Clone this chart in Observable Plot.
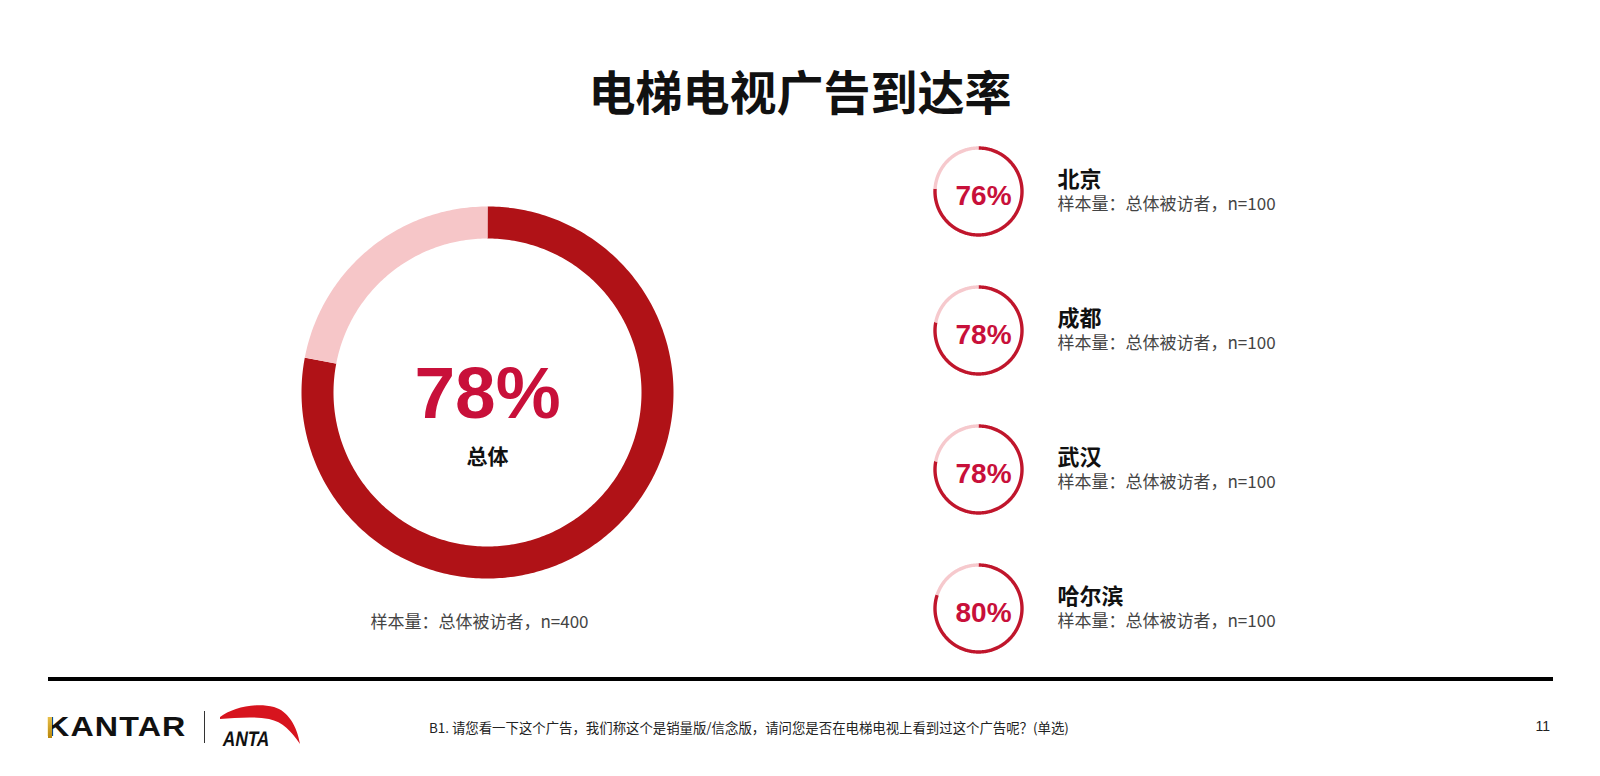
<!DOCTYPE html>
<html>
<head>
<meta charset="utf-8">
<script src="https://cdn.jsdelivr.net/npm/d3@7"></script>
<script src="https://cdn.jsdelivr.net/npm/@observablehq/plot@0.6"></script>
<style>
  html, body { margin: 0; padding: 0; background: #fff; }
  #page { position: relative; width: 1600px; height: 776px; overflow: hidden; background: #fff;
          font-family: "Noto Sans CJK SC", "Liberation Sans", sans-serif; }
  #title { position: absolute; left: 0; width: 1600px; top: 58px; text-align: center;
           font-size: 47px; font-weight: 700; color: #111; line-height: 64px; }
  #chart { position: absolute; left: 0; top: 130px; }
  #rule { position: absolute; left: 48px; width: 1505px; top: 677px; height: 4px; background: #000; }
  #kantar { position: absolute; left: 46px; top: 710px; font-family: "Liberation Sans", Arial, sans-serif;
            font-weight: 700; font-size: 28px; line-height: 34px; letter-spacing: 1px; color: #111;
            transform: scaleX(1.15); transform-origin: left center; }
  #kbar { position: absolute; left: 48px; top: 717px; width: 4px; height: 21px;
          background: linear-gradient(#E8C04A, #B8860B); }
  #sep { position: absolute; left: 204px; top: 711px; width: 1px; height: 32px; background: #333; }
  #anta { position: absolute; left: 210px; top: 700px; }
  #note { position: absolute; left: 429px; top: 717px; font-size: 13.4px; line-height: 20px; color: #222; }
  #pgno { position: absolute; right: 50px; top: 716px; font-size: 14px; line-height: 20px; color: #222;
          font-family: "Liberation Sans", Arial, sans-serif; }
</style>
</head>
<body>
<div id="page">
  <div id="title"></div>
  <div id="chart"></div>
  <div id="rule"></div>
  <div id="kantar">KANTAR</div>
  <div id="kbar"></div>
  <div id="sep"></div>
  <svg id="anta" width="100" height="52" viewBox="0 0 100 52">
    <path d="M10 17 C 22 8, 45 2, 64 7 C 78 11, 87 26, 90 44 C 81 31, 73 22, 59 19 C 43 16, 25 18, 10 19 Z" fill="#D7141E"/>
    <g transform="translate(12 46) scale(0.82 1) skewX(-12)">
      <text x="0" y="0" font-family="Liberation Sans, Arial, sans-serif" font-weight="700"
            font-size="21" fill="#111">ANTA</text>
    </g>
  </svg>
  <div id="note"></div>
  <div id="pgno"></div>
</div>
<script>
// ---------------- data ----------------
const chartTitle = "电梯电视广告到达率";
const totalLabel = "总体";
const totalValue = 78;
const totalN = 400;
const cities = ["北京", "成都", "武汉", "哈尔滨"];
const cityValues = [76, 78, 78, 80];
const cityN = [100, 100, 100, 100];
const samplePrefix = "样本量：总体被访者，n=";
const footnote = "B1. 请您看一下这个广告，我们称这个是销量版/信念版，请问您是否在电梯电视上看到过这个广告呢？(单选)";
const pageNumber = "11";

// ---------------- layout ----------------
const TOP = 130, H = 530, W = 1600;
const big = {cx: 487, cy: 392, r: 170, w: 32, dark: "#B01217", light: "#F6C6C8"};
const small = {cx: 978, cy0: 191, step: 139, r: 43.5, w: 3.4, dark: "#C0162C", light: "#F6C9CD"};
const textRed = "#C8103A";
const cjk = "'Noto Sans CJK SC', 'Liberation Sans', sans-serif";
const num = "'Liberation Sans', Arial, sans-serif";

document.getElementById("title").textContent = chartTitle;
document.getElementById("note").textContent = footnote;
document.getElementById("pgno").textContent = pageNumber;

function arc(cx, cy, r, f0, f1, key, color) {
  const n = Math.max(2, Math.ceil((f1 - f0) * 400));
  return d3.range(n + 1).map(i => {
    const a = (f0 + (f1 - f0) * i / n) * 2 * Math.PI;
    return {x: cx + r * Math.sin(a), y: cy - r * Math.cos(a), key, color};
  });
}
function ring(cx, cy, r, value, key, dark, light) {
  const f = value / 100;
  return [...arc(cx, cy, r, 0, f, key + "-a", dark), ...arc(cx, cy, r, f, 1, key + "-b", light)];
}

const bigPts = ring(big.cx, big.cy, big.r, totalValue, "total", big.dark, big.light);
const smallPts = cities.flatMap((c, i) =>
  ring(small.cx, small.cy0 + i * small.step, small.r, cityValues[i], c, small.dark, small.light));

const cityRows = cities.map((c, i) => ({
  name: c, value: cityValues[i], n: cityN[i], cy: small.cy0 + i * small.step
}));

const chart = Plot.plot({
  width: W, height: H, margin: 0,
  style: {background: "transparent", overflow: "visible"},
  x: {domain: [0, W], range: [0, W], axis: null},
  y: {domain: [TOP, TOP + H], range: [0, H], axis: null},
  marks: [
    Plot.line(bigPts, {x: "x", y: "y", z: "key", stroke: "color", strokeWidth: big.w, strokeLinecap: "butt", curve: "linear"}),
    Plot.line(smallPts, {x: "x", y: "y", z: "key", stroke: "color", strokeWidth: small.w, strokeLinecap: "butt", curve: "linear"}),
    Plot.text([totalValue], {x: big.cx, y: big.cy + 2, text: d => d + "%", fontSize: 73, fontWeight: 700,
      fontFamily: num, fill: textRed, textAnchor: "middle", lineAnchor: "middle"}),
    Plot.text([totalLabel], {x: big.cx, y: big.cy + 65, text: d => d, fontSize: 21, fontWeight: 700,
      fontFamily: cjk, fill: "#111", textAnchor: "middle", lineAnchor: "middle"}),
    Plot.text([totalN], {x: big.cx - 8, y: 622, text: d => samplePrefix + d, fontSize: 17,
      fontFamily: cjk, fill: "#444", textAnchor: "middle", lineAnchor: "middle"}),
    Plot.text(cityRows, {x: small.cx + 5, y: d => d.cy + 5, text: d => d.value + "%", fontSize: 28, fontWeight: 700,
      fontFamily: num, fill: textRed, textAnchor: "middle", lineAnchor: "middle"}),
    Plot.text(cityRows, {x: 1057, y: d => d.cy - 12, text: "name", fontSize: 22, fontWeight: 700,
      fontFamily: cjk, fill: "#111", textAnchor: "start", lineAnchor: "middle"}),
    Plot.text(cityRows, {x: 1057, y: d => d.cy + 13, text: d => samplePrefix + d.n, fontSize: 17,
      fontFamily: cjk, fill: "#444", textAnchor: "start", lineAnchor: "middle"})
  ]
});
document.getElementById("chart").appendChild(chart);
</script>
</body>
</html>
